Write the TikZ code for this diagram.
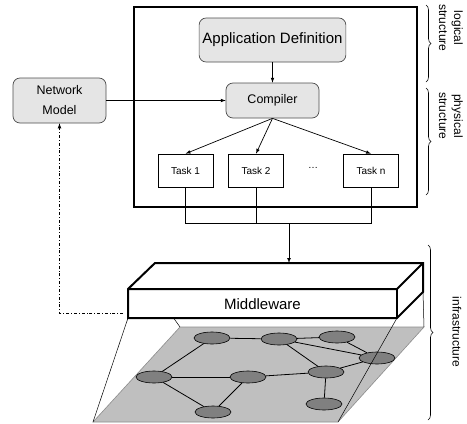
\documentclass[tikz,border=0pt]{standalone}
\usepackage{fontspec}
\setmainfont{Liberation Sans}
\usepackage{tikz}
\usetikzlibrary{arrows,calc,decorations,positioning,shapes}
\usetikzlibrary{shapes.geometric}
\usetikzlibrary{decorations.pathreplacing}
\tikzset{%
	rbox/.style     = {draw=black!70, fill=black!10, rectangle, rounded corners=7pt, line width=0.7pt, text centered},
	taskbox/.style  = {draw, rectangle, fill=white, minimum width=55pt, minimum height=33pt, line width=0.6pt, font=\fontsize{10}{12}\selectfont},
	host/.style     = {draw, ellipse, fill=black!50, minimum width=36pt, minimum height=12pt, inner sep=0pt, line width=0.6pt},
	link/.style     = {line width=0.8pt},
	arrow/.style    = {line width=0.7pt,-latex,>=stealth},
	bigbox/.style   = {line width=2pt},
	sidebrace/.style= {decorate, decoration={brace, amplitude=5pt}, line width=0.6pt},
	sidelabel/.style= {rotate=-90, align=center, font=\fontsize{12}{15}\selectfont},
}
\begin{document}
\begin{tikzpicture}[x=1pt,y=-1pt]
		\useasboundingbox (0,0) rectangle (467,424);
		% logical and physical structure
		\draw[bigbox] (134,7) rectangle (417,207);
		\node[rbox, minimum width=145pt, minimum height=44pt, font=\fontsize{15}{18}\selectfont] (appdef) at (272.5,40) {Application Definition};
		\node[rbox, minimum width=93pt, minimum height=35pt, font=\fontsize{12.5}{15}\selectfont] (compiler) at (272.5,100.5) {Compiler};
		\node[rbox, minimum width=93pt, minimum height=45pt, align=center, font=\fontsize{12.5}{20}\selectfont] (netmodel) at (59.5,100.5) {Network\\Model};
		\node[taskbox] (task1) at (185.5,170.5) {Task 1};
		\node[taskbox] (task2) at (256,170.5) {Task 2};
		\node[taskbox] (taskn) at (371,170.5) {Task n};
		\node[font=\fontsize{10}{12}\selectfont] (dots) at (313,168) {\dots};
		
		\draw[arrow] (appdef) -- (compiler);
		\draw[arrow] (netmodel) -- (compiler);
		\foreach \t in {task1,task2,taskn} \draw[arrow] (compiler.south) -- (\t.north);
		
		\coordinate (join) at (289,223);
		\coordinate (mwtop) at (289,263);
		\coordinate (mwlink) at (123,313);
		\draw[line width=0.6pt] (task1.south) |- (taskn.south |- join) -- (taskn.south);
		\draw[line width=0.6pt] (task2.south) -- (task2.south |- join);
		\draw[arrow] (join) -- (mwtop);
		
		% infrastructure
		\fill[black!25, draw=black!45, line width=0.6pt] (93,422) -- (338,422) -- (424,327) -- (180,327) -- cycle;
		\node[host] (h1) at (212,338) {};
		\node[host] (h2) at (279,339) {};
		\node[host] (h3) at (337,337) {};
		\node[host] (h4) at (377,358) {};
		\node[host] (h5) at (326,372) {};
		\node[host] (h6) at (248,377) {};
		\node[host] (h7) at (154,377) {};
		\node[host] (h8) at (213,412) {};
		\node[host] (h9) at (324,404) {};
		\foreach \a/\b in {h1/h2,h2/h3,h2/h4,h3/h4,h2/h5,h5/h4,h1/h7,h7/h6,h6/h5,h7/h8,h6/h8,h5/h9}
			\draw[link] (\a) -- (\b);
		
		\draw[line width=0.5pt] (128,318) -- (93,422);
		\draw[line width=0.5pt] (397,318) -- (338,422);
		\draw[line width=0.5pt] (423,292) -- (424,327);
		\draw[line width=0.5pt] (155,292) -- (180,327);
		
		% middleware
		\draw[bigbox, fill=white] (128,289) -- (155,263) -- (423,263) -- (423,292) -- (397,318) -- (128,318) -- cycle;
		\draw[bigbox] (128,289) -- (397,289) -- (423,263);
		\draw[bigbox] (397,289) -- (397,318);
		\node[font=\fontsize{15}{18}\selectfont] (mw) at (262.5,304) {Middleware};
		
		\draw[arrow, dash dot] (mwlink) -| (netmodel.south);
		
		% braces
		\draw[sidebrace] (426,5) -- (426,82);
		\draw[sidebrace] (426,88) -- (426,195);
		\draw[sidebrace] (428,245) -- (428,420);
		\node[sidelabel] (logical) at (451,28) {logical\\structure};
		\node[sidelabel] (physical) at (451,116) {physical\\structure};
		\node[sidelabel] (infra) at (457,332) {infrastructure};
	\end{tikzpicture}
\end{document}
